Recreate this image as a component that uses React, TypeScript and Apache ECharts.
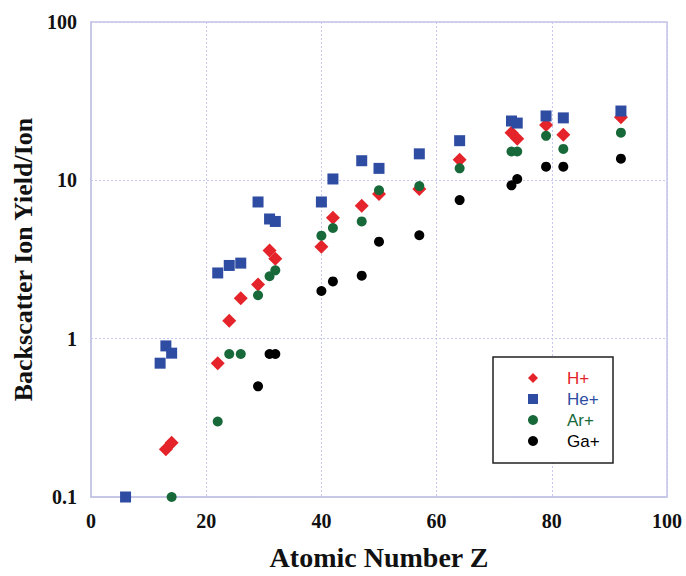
import React, { useEffect, useRef } from "react";
import * as echarts from "echarts";

const hZ = [13, 14, 22, 24, 26, 29, 31, 32, 40, 42, 47, 50, 57, 64, 73, 74, 79, 82, 92];
const hY = [0.2, 0.22, 0.7, 1.3, 1.8, 2.2, 3.6, 3.2, 3.8, 5.8, 6.9, 8.2, 8.8, 13.5, 20, 18.3, 22.4, 19.4, 25];

const heZ = [6, 12, 13, 14, 22, 24, 26, 29, 31, 32, 40, 42, 47, 50, 57, 64, 73, 74, 79, 82, 92];
const heY = [0.1, 0.7, 0.9, 0.81, 2.6, 2.9, 3.0, 7.3, 5.7, 5.5, 7.3, 10.2, 13.3, 11.9, 14.7, 17.8, 23.7, 23, 25.5, 24.8, 27.4];

const arZ = [14, 22, 24, 26, 29, 31, 32, 40, 42, 47, 50, 57, 64, 73, 74, 79, 82, 92];
const arY = [0.1, 0.3, 0.8, 0.8, 1.88, 2.48, 2.7, 4.47, 5.0, 5.5, 8.66, 9.2, 11.9, 15.2, 15.2, 19.1, 15.8, 20];

const gaZ = [29, 31, 32, 40, 42, 47, 50, 57, 64, 73, 74, 79, 82, 92];
const gaY = [0.5, 0.8, 0.8, 2.0, 2.3, 2.5, 4.1, 4.5, 7.5, 9.3, 10.2, 12.2, 12.2, 13.7];

const xTicks = [0, 20, 40, 60, 80, 100];
const yTicks = [0.1, 1, 10, 100];

const seriesNames = ["H+", "He+", "Ar+", "Ga+"];
const seriesColors = ["#e4242a", "#2f4ca3", "#17693a", "#000000"];
const seriesSymbols = ["diamond", "rect", "circle", "circle"];
const seriesSizes = [14, 11, 10, 10];

const zip = (xs: number[], ys: number[]) => xs.map((x, i) => [x, ys[i]]);

export default function App() {
  const ref = useRef<HTMLDivElement>(null);
  useEffect(() => {
    if (!ref.current) return;
    const chart = echarts.init(ref.current, null, { renderer: "svg" });
    const datas = [zip(hZ, hY), zip(heZ, heY), zip(arZ, arY), zip(gaZ, gaY)];
    const axisColor = "#c4c4e6";
    const serif = "'Liberation Serif', 'Times New Roman', serif";
    chart.setOption({
      animation: false,
      backgroundColor: "#ffffff",
      grid: {
        left: 91,
        right: 19,
        top: 22,
        bottom: 76,
        show: true,
        borderColor: axisColor,
        borderWidth: 1.5,
      },
      xAxis: {
        type: "value",
        min: xTicks[0],
        max: xTicks[xTicks.length - 1],
        interval: 20,
        axisLine: { show: true, lineStyle: { color: axisColor, width: 1.5 } },
        axisTick: { show: false },
        splitLine: { show: true, lineStyle: { color: "#c8c8ee", type: [2, 2], width: 1 } },
        axisLabel: {
          color: "#111",
          fontFamily: serif,
          fontWeight: "bold",
          fontSize: 20,
          margin: 14,
        },
        name: "Atomic Number Z",
        nameLocation: "middle",
        nameGap: 46,
        nameTextStyle: { color: "#111", fontFamily: serif, fontWeight: "bold", fontSize: 28 },
      },
      yAxis: {
        type: "log",
        logBase: 10,
        min: yTicks[0],
        max: yTicks[yTicks.length - 1],
        axisLine: { show: true, lineStyle: { color: axisColor, width: 1.5 } },
        axisTick: { show: false },
        minorTick: { show: false },
        splitLine: { show: true, lineStyle: { color: "#c8c8ee", type: [2, 2], width: 1 } },
        axisLabel: {
          color: "#111",
          fontFamily: serif,
          fontWeight: "bold",
          fontSize: 20,
          margin: 14,
          formatter: (v: number) => String(v),
        },
        name: "Backscatter Ion Yield/Ion",
        nameLocation: "middle",
        nameGap: 52,
        nameTextStyle: { color: "#111", fontFamily: serif, fontWeight: "bold", fontSize: 26 },
      },
      legend: {
        orient: "vertical",
        left: 528,
        top: 368,
        itemWidth: 10,
        itemHeight: 10,
        itemGap: 1,
        padding: 0,
        data: seriesNames.map((n, i) => ({
          name: n,
          icon: seriesSymbols[i],
          textStyle: { color: seriesColors[i], padding: [0, 0, 0, 24] },
        })),
        textStyle: { fontFamily: "'Liberation Sans', Arial, sans-serif", fontSize: 17, lineHeight: 20 },
      },
      graphic: [
        {
          type: "rect",
          shape: { x: 493, y: 357, width: 120, height: 106 },
          style: { fill: "#ffffff", stroke: "#222", lineWidth: 1.5 },
          z: 1,
        },
      ],
      series: seriesNames.map((n, i) => ({
        name: n,
        type: "scatter",
        symbol: seriesSymbols[i],
        symbolSize: seriesSizes[i],
        itemStyle: { color: seriesColors[i], opacity: 1 },
        data: datas[i],
        z: 3,
      })),
    });
    return () => chart.dispose();
  }, []);
  return <div ref={ref} style={{ width: 686, height: 576, position: "absolute", left: 0, top: 0 }} />;
}
